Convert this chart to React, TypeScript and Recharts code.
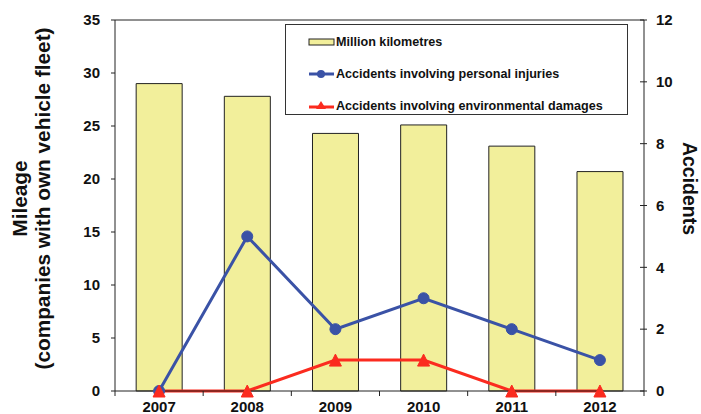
import React from 'react'
import {
  ComposedChart,
  Bar,
  Line,
  XAxis,
  YAxis,
  Legend,
  ReferenceLine,
} from 'recharts'

const years = ['2007', '2008', '2009', '2010', '2011', '2012']
const mileage = [29.0, 27.8, 24.3, 25.1, 23.1, 20.7]
const injuries = [0, 5, 2, 3, 2, 1]
const environmental = [0, 0, 1, 1, 0, 0]
const mileageTicks = [0, 5, 10, 15, 20, 25, 30, 35]
const accidentTicks = [0, 2, 4, 6, 8, 10, 12]

const data = years.map((year, i) => ({
  year,
  mileage: mileage[i],
  injuries: injuries[i],
  environmental: environmental[i],
}))

const FONT = 'Arial, "Liberation Sans", sans-serif'
const BAR_FILL = '#f2ef9b'
const BLUE = '#3a52a6'
const RED = '#fb2b1f'
const AXIS = '#222'

const W = 701
const H = 414
const MARGIN = { top: 20, right: 7, bottom: 3, left: 55 }
const LEFT_W = 60
const RIGHT_W = 50
const X_TICK = 5
const X_GAP = 5
const R_TICK = 3
const R_GAP = 9

const band = (W - MARGIN.left - MARGIN.right - LEFT_W - RIGHT_W) / years.length

const tickText = {
  fontSize: 15,
  fontWeight: 700,
  fontFamily: FONT,
  fill: '#111',
}

function XTick(props: any) {
  const { x, y, payload, index, visibleTicksCount } = props
  const half = payload?.offset || band / 2
  const axisY = y - X_TICK - X_GAP
  const last = index === visibleTicksCount - 1
  return (
    <g>
      <line x1={x - half} x2={x - half} y1={axisY} y2={axisY + X_TICK} stroke={AXIS} />
      {last && (
        <line x1={x + half} x2={x + half} y1={axisY} y2={axisY + X_TICK} stroke={AXIS} />
      )}
      <text x={x} y={y} dy="0.71em" textAnchor="middle" {...tickText}>
        {payload.value}
      </text>
    </g>
  )
}

function RightTick(props: any) {
  const { x, y, payload } = props
  const axisX = x - R_TICK - R_GAP
  return (
    <g>
      <line x1={axisX - 4} x2={axisX + R_TICK} y1={y} y2={y} stroke={AXIS} />
      <text x={x} y={y} dy="0.355em" textAnchor="start" {...tickText}>
        {payload.value}
      </text>
    </g>
  )
}

function LeftLabel(props: any) {
  const { viewBox } = props
  const cy = viewBox.y + viewBox.height / 2 - 7
  const x1 = viewBox.x - 36
  const x2 = viewBox.x - 13
  const style = { fontSize: 20.8, fontWeight: 700, fontFamily: FONT, fill: '#111' }
  return (
    <g>
      <text x={x1} y={cy} textAnchor="middle" dominantBaseline="central" transform={`rotate(-90, ${x1}, ${cy})`} {...style}>
        Mileage
      </text>
      <text x={x2} y={cy} textAnchor="middle" dominantBaseline="central" transform={`rotate(-90, ${x2}, ${cy})`} {...style}>
        (companies with own vehicle fleet)
      </text>
    </g>
  )
}

function RightLabel(props: any) {
  const { viewBox } = props
  const cy = viewBox.y + viewBox.height / 2 - 17
  const cx = viewBox.x + 46
  return (
    <text
      x={cx}
      y={cy}
      textAnchor="middle"
      dominantBaseline="central"
      transform={`rotate(90, ${cx}, ${cy})`}
      fontSize={19.5}
      fontWeight={700}
      fontFamily={FONT}
      fill="#111"
    >
      Accidents
    </text>
  )
}

function Triangle(props: any) {
  const { cx, cy, size = 6 } = props
  if (cx == null || cy == null) return null
  return (
    <polygon
      points={`${cx},${cy - size} ${cx - size},${cy + size} ${cx + size},${cy + size}`}
      fill={RED}
      stroke={RED}
    />
  )
}

const legendItems = [
  { label: 'Million kilometres', kind: 'bar' },
  { label: 'Accidents involving personal injuries', kind: 'circle' },
  { label: 'Accidents involving environmental damages', kind: 'triangle' },
]

function LegendBox() {
  return (
    <div
      style={{
        width: 341,
        height: 89,
        border: '1px solid #333',
        background: '#fff',
        position: 'relative',
      }}
    >
      {legendItems.map((item, i) => (
        <div
          key={item.label}
          style={{
            position: 'absolute',
            left: 22,
            top: 17 + i * 32 - 9,
            height: 18,
            display: 'flex',
            alignItems: 'center',
            fontFamily: FONT,
            fontWeight: 700,
            fontSize: 12.6,
            color: '#111',
            whiteSpace: 'nowrap',
          }}
        >
          <svg width={28} height={18}>
            {item.kind === 'bar' && (
              <rect x={1} y={6} width={25} height={6} fill={BAR_FILL} stroke={AXIS} />
            )}
            {item.kind === 'circle' && (
              <g>
                <line x1={1} x2={26} y1={9} y2={9} stroke={BLUE} strokeWidth={3} />
                <circle cx={13} cy={9} r={4} fill={BLUE} />
              </g>
            )}
            {item.kind === 'triangle' && (
              <g>
                <line x1={1} x2={26} y1={10} y2={10} stroke={RED} strokeWidth={3} />
                <polygon points="13,4 8,12 18,12" fill={RED} />
              </g>
            )}
          </svg>
          <span>{item.label}</span>
        </div>
      ))}
    </div>
  )
}

export default function App() {
  return (
    <div style={{ position: 'absolute', left: 0, top: 0, background: '#fff' }}>
      <ComposedChart width={W} height={H} data={data} margin={MARGIN} barCategoryGap="24%">
        <XAxis
          dataKey="year"
          height={20}
          tickLine={false}
          tickSize={X_TICK}
          tickMargin={X_GAP}
          axisLine={{ stroke: AXIS }}
          tick={<XTick />}
          interval={0}
        />
        <YAxis
          yAxisId="left"
          orientation="left"
          width={LEFT_W}
          domain={[0, 35]}
          ticks={mileageTicks}
          tickSize={4}
          tickMargin={11}
          axisLine={{ stroke: AXIS }}
          tickLine={{ stroke: AXIS }}
          tick={tickText}
          label={<LeftLabel />}
        />
        <YAxis
          yAxisId="right"
          orientation="right"
          width={RIGHT_W}
          domain={[0, 12]}
          ticks={accidentTicks}
          tickSize={R_TICK}
          tickMargin={R_GAP}
          axisLine={{ stroke: AXIS }}
          tickLine={false}
          tick={<RightTick />}
          label={<RightLabel />}
        />
        <ReferenceLine yAxisId="left" y={35} stroke={AXIS} />
        <Bar
          yAxisId="left"
          dataKey="mileage"
          fill={BAR_FILL}
          stroke={AXIS}
          strokeWidth={1}
          isAnimationActive={false}
        />
        <Line
          yAxisId="right"
          dataKey="injuries"
          stroke={BLUE}
          strokeWidth={3}
          dot={{ r: 5.5, fill: BLUE, stroke: BLUE, strokeWidth: 1 }}
          activeDot={false}
          isAnimationActive={false}
        />
        <Line
          yAxisId="right"
          dataKey="environmental"
          stroke={RED}
          strokeWidth={3}
          dot={<Triangle />}
          activeDot={false}
          isAnimationActive={false}
        />
        <Legend
          layout="vertical"
          align="center"
          verticalAlign="middle"
          content={<LegendBox />}
          wrapperStyle={{ left: 285, top: 24, width: 343, height: 91 }}
        />
      </ComposedChart>
    </div>
  )
}
